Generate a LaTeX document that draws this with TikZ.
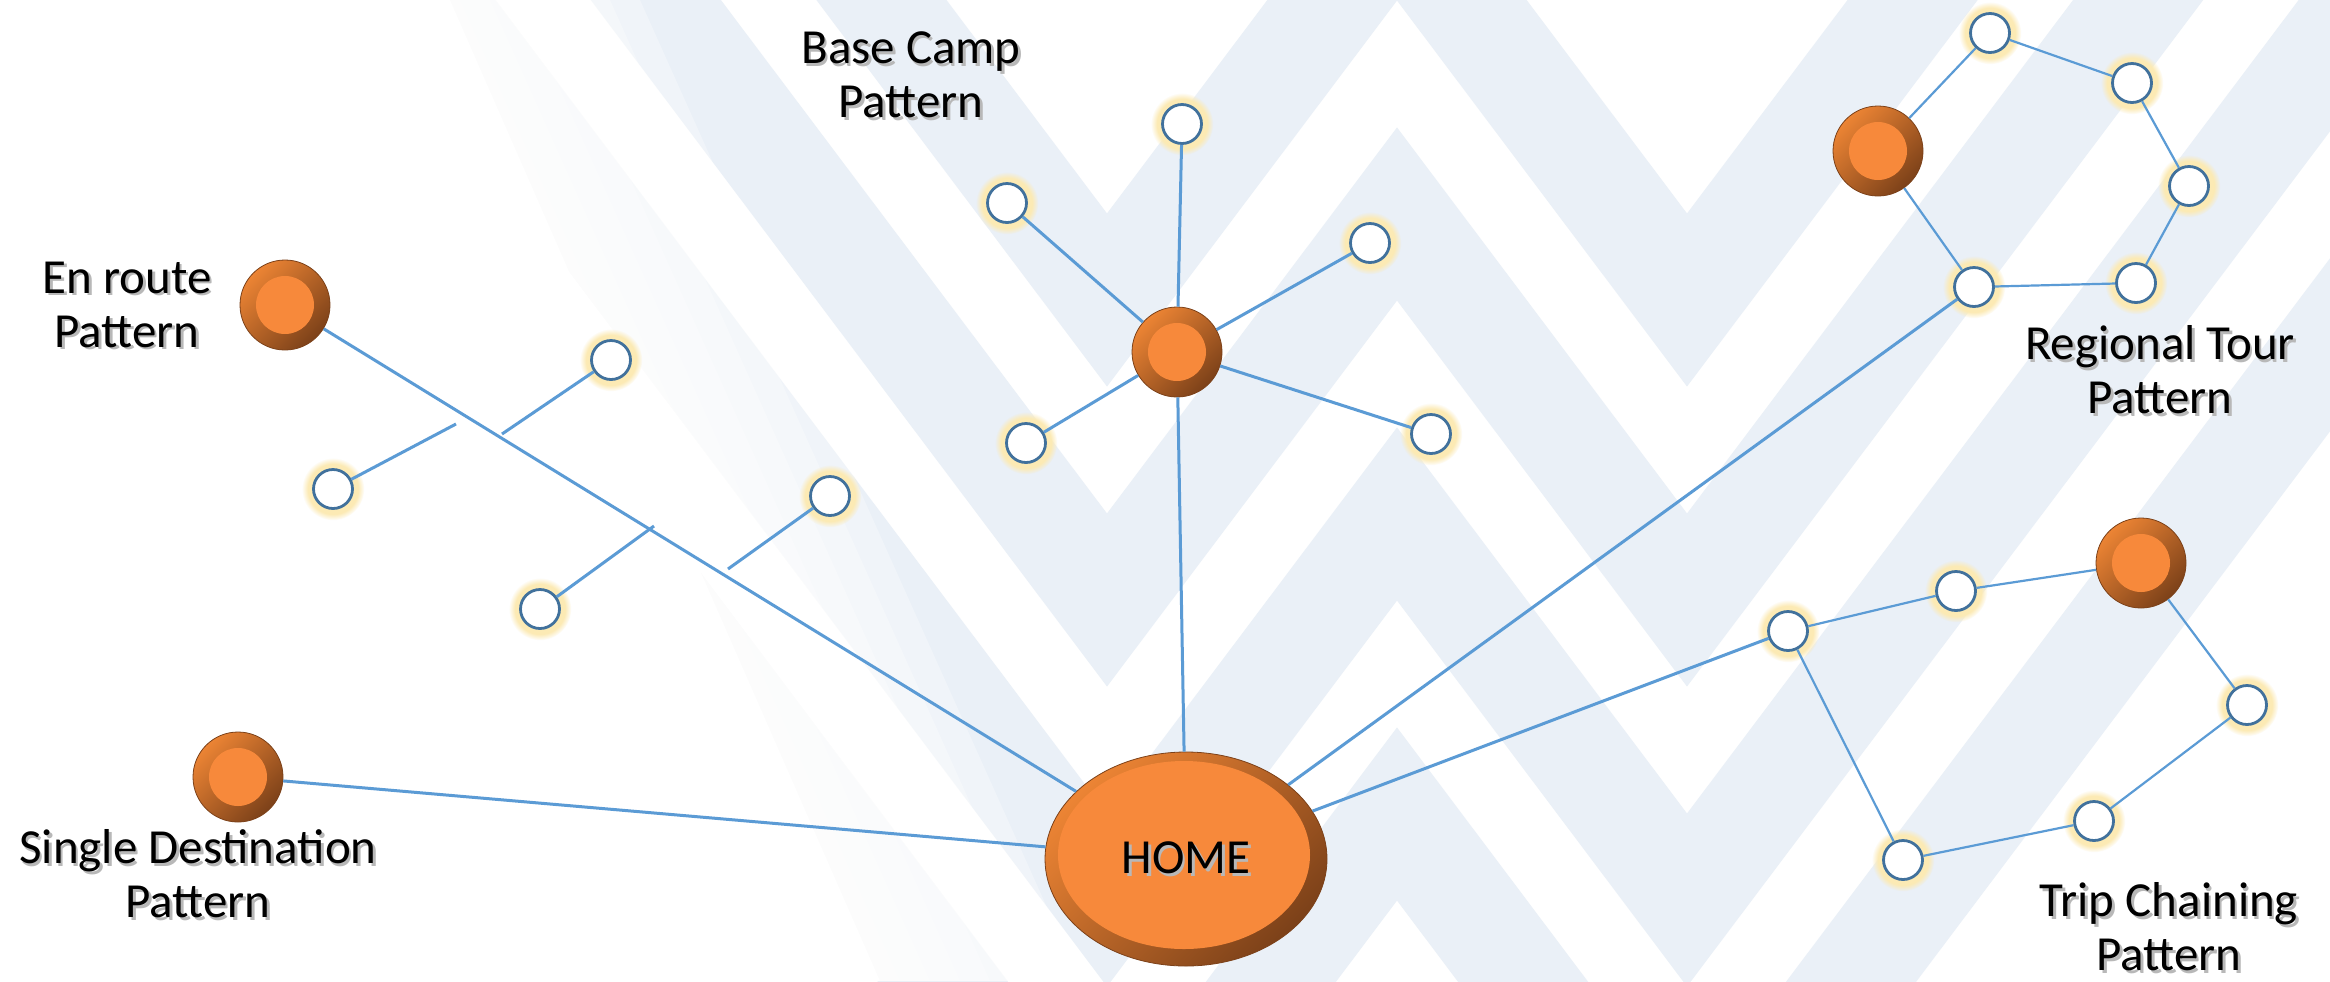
\documentclass[tikz,border=0pt]{standalone}
\usepackage{fontspec}
\setmainfont{Carlito}
\usetikzlibrary{shapes.geometric,shadows,fadings}
\definecolor{bandc}{HTML}{EAF0F7}
\definecolor{linec}{HTML}{5B9BD5}
\definecolor{ringc}{HTML}{41719C}
\definecolor{glowc}{HTML}{FCEAB4}
\definecolor{orin}{HTML}{F7893B}
\definecolor{orlt}{HTML}{EC8434}
\definecolor{ormd}{HTML}{C86C27}
\definecolor{ordk}{HTML}{7C4119}
\newcommand\lblfont{\fontsize{24.5}{27}\selectfont}
\newcommand\sht[1]{\makebox[0pt][l]{\hspace{1.3pt}\raisebox{-1.3pt}{\textcolor{black!28}{#1}}}#1}
\begin{document}
\begin{tikzpicture}[x=0.5pt,y=-0.5pt,
  band/.style={draw=bandc, line width=52pt, line join=miter},
  whiteveil/.style={fill=white, opacity=0.3},
  link/.style={draw=linec, line width=1.5pt},
  thinlink/.style={draw=linec, line width=1.1pt},
  spot/.style={circle, draw=ringc, line width=1.4pt, fill=white, minimum size=19.5pt, inner sep=0pt,
    general shadow={fill=glowc, shadow scale=1.6, path fading={circle with fuzzy edge 20 percent}}},
  ball/.style={circle, minimum size=45pt, inner sep=0pt, top color=orlt, middle color=ormd, bottom color=ordk, shading angle=45,
    draw=ordk, line width=0.4pt,
    path picture={\fill[orin] (path picture bounding box.center) circle (14.5pt);}},
  homenode/.style={ellipse, minimum width=141pt, minimum height=107pt, inner sep=0pt, top color=orlt, middle color=ormd, bottom color=ordk,
    shading angle=45, draw=ordk, line width=0.4pt,
    path picture={\fill[orin] ([xshift=-1pt,yshift=2pt]path picture bounding box.center) ellipse (63pt and 47pt);}, font=\lblfont},
  lbl/.style={align=center, inner sep=0pt, font=\lblfont}
]
\useasboundingbox (0,0) rectangle (2330,981);
\fill[white] (0,0) rectangle (2330,981);
\begin{scope}
\clip (0,0) rectangle (2330,981);
\foreach \b in {300,600,900,1200}{
  \draw[band] (207,\b-1197) -- (1107,\b) -- (1397,\b-386) -- (1687,\b) -- (2587,\b-1197);
}
% soft white fade over the left part
\foreach \d in {0,30,...,180}{
  \fill[whiteveil] (0,0) -- (640-\d,0) -- (1080-\d,981) -- (0,981) -- cycle;
}
\fill[white] (0,0) -- (450,0) -- (880,981) -- (0,981) -- cycle;
\end{scope}

% main nodes
\node[homenode] (home) at (1186,859) {\sht{HOME}};
\node[ball] (bc) at (1177,352) {};
\node[ball] (er) at (285,305) {};
\node[ball] (sd) at (238,777) {};
\node[ball] (rt) at (1878,151) {};
\node[ball] (tc) at (2141,563) {};

% base camp
\node[spot] (b1) at (1182,124) {};
\node[spot] (b2) at (1007,203) {};
\node[spot] (b3) at (1370,243) {};
\node[spot] (b4) at (1431,434) {};
\node[spot] (b5) at (1026,443) {};
% en route
\node[spot] (e1) at (611,360) {};
\node[spot] (e2) at (333,489) {};
\node[spot] (e3) at (830,496) {};
\node[spot] (e4) at (540,609) {};
% regional tour
\node[spot] (r1) at (1990,33) {};
\node[spot] (r2) at (2132,83) {};
\node[spot] (r3) at (2189,186) {};
\node[spot] (r4) at (2136,283) {};
\node[spot] (r5) at (1974,287) {};
% trip chaining
\node[spot] (t1) at (1788,631) {};
\node[spot] (t2) at (1956,591) {};
\node[spot] (t3) at (2247,705) {};
\node[spot] (t4) at (2094,821) {};
\node[spot] (t5) at (1903,860) {};

\coordinate (g1) at (456,424);
\coordinate (g2) at (502,434);
\coordinate (g3) at (654,526);
\coordinate (g4) at (728,569);

% labels
\node[lbl] (lbc) at (911,76) {\sht{Base Camp}\\\sht{Pattern}};
\node[lbl] (len) at (127,306) {\sht{En route}\\\sht{Pattern}};
\node[lbl] (lsd) at (198,875) {\sht{Single Destination}\\\sht{Pattern}};
\node[lbl] (lrt) at (2160,371) {\sht{Regional Tour}\\\sht{Pattern}};
\node[lbl] (ltc) at (2169,928) {\sht{Trip Chaining}\\\sht{Pattern}};

% connectors
\draw[link] (er) -- (home);
\draw[link] (sd) -- (home);
\draw[link] (bc) -- (home);
\draw[link] (home) -- (t1);
\draw[link] (home) -- (r5);
\draw[link] (e2) -- (g1);
\draw[link] (g2) -- (e1);
\draw[link] (e4) -- (g3);
\draw[link] (g4) -- (e3);
\foreach \n in {b1,b2,b3,b4,b5} \draw[link] (bc) -- (\n);
\draw[thinlink] (rt) -- (r1) -- (r2) -- (r3) -- (r4) -- (r5) -- (rt);
\draw[thinlink] (t1) -- (t2) -- (tc) -- (t3) -- (t4) -- (t5) -- (t1);
\end{tikzpicture}
\end{document}
